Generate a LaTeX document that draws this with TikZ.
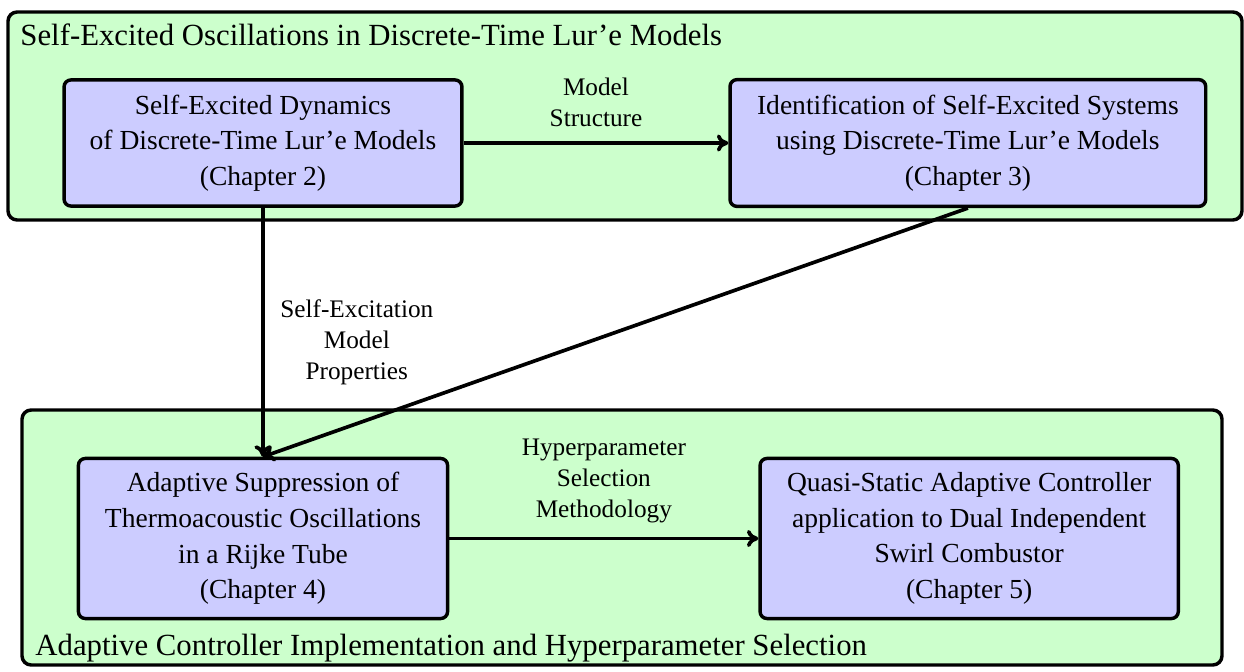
\documentclass[tikz,border=0pt]{standalone}
\usepackage{fontspec}
\setmainfont{Liberation Serif}
\usepackage{tikz}
\usetikzlibrary{positioning,arrows.meta,fit,backgrounds}
\usepackage{xcolor}
\definecolor{grpgreen}{HTML}{CCFFCC}
\definecolor{chapblue}{HTML}{CCCCFF}

\begin{document}
\begin{tikzpicture}[
    x=0.0153cm, y=-0.0153cm,
    chap/.style={draw, fill=chapblue, line width=1.5pt, align=center, rounded corners=3pt, font=\fontsize{12}{15.5}\selectfont},
    group/.style={draw, fill=grpgreen, line width=1.5pt, rounded corners=4pt, inner sep=0pt},
    grptitle/.style={anchor=base west, inner sep=0pt, font=\fontsize{13.4}{16}\selectfont},
    lbl/.style={align=center, font=\fontsize{11}{13.4}\selectfont},
    arrow/.style={-{To[length=5pt,width=7.5pt]}, line width=1.6pt},
]
\useasboundingbox (0,0) rectangle (1244,671);

% chapters
\node[chap, minimum width=6.09cm, minimum height=1.93cm] (dyn) at (263,143)
    {Self-Excited Dynamics\\of Discrete-Time Lur'e Models\\(Chapter 2)};
\node[chap, right=4.05cm of dyn, minimum width=7.28cm, minimum height=1.94cm] (ident)
    {Identification of Self-Excited Systems\\using Discrete-Time Lur'e Models\\(Chapter 3)};
\node[chap, below=3.81cm of dyn, minimum width=5.65cm, minimum height=2.45cm] (supp)
    {Adaptive Suppression of\\Thermoacoustic Oscillations\\in a Rijke Tube\\(Chapter 4)};
\node[chap, right=4.73cm of supp, minimum width=6.40cm, minimum height=2.45cm] (quasi)
    {Quasi-Static Adaptive Controller\\application to Dual Independent\\Swirl Combustor\\(Chapter 5)};

% groups
\begin{pgfonlayer}{background}
\node[group, fit={(8,12) (1242,220)}] (lure) {};
\node[group, fit={(22,410) (1222,665)}] (adapt) {};
\end{pgfonlayer}
\node[grptitle] (luretitle) at (20,45) {Self-Excited Oscillations in Discrete-Time Lur'e Models};
\node[grptitle] (adapttitle) at (35,655) {Adaptive Controller Implementation and Hyperparameter Selection};

% links
\draw[arrow] (dyn) -- node[lbl, midway, above=1mm] {Model\\Structure} (ident);
\draw[arrow] (dyn.south) -- node[lbl, pos=0.54, right=0.12cm] {Self-Excitation\\Model\\Properties} (supp.north);
\draw[arrow] (ident.south) -- (supp.north);
\draw[arrow] (supp) -- node[lbl, midway, above=1mm] {Hyperparameter\\Selection\\Methodology} (quasi);
\end{tikzpicture}
\end{document}
